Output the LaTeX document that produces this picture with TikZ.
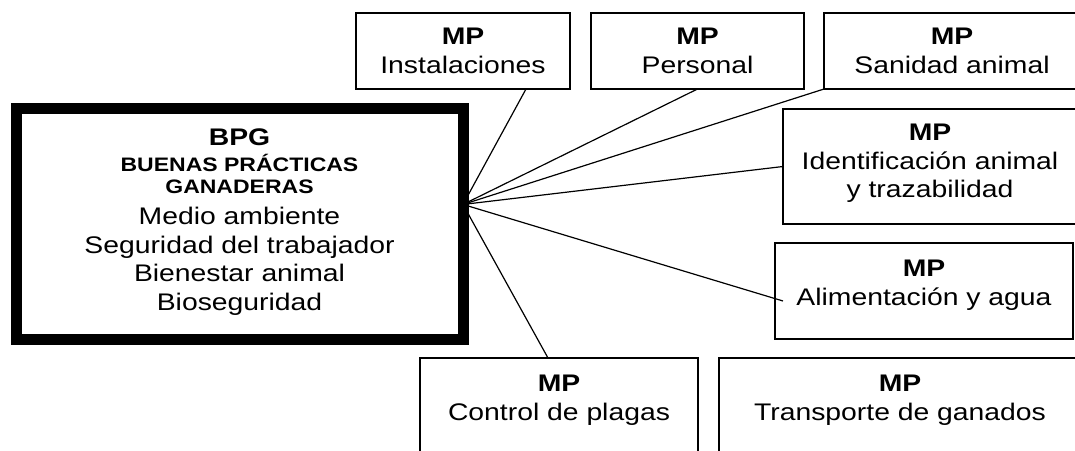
\documentclass[tikz,border=0pt]{standalone}
\usepackage{fontspec}
\setmainfont[FakeStretch=1.18]{Liberation Sans}

\begin{document}
\begin{tikzpicture}[x=1pt,y=-1pt]
\tikzstyle{mpbox}=[rectangle, draw, line width=1.6pt, anchor=north west, inner sep=0pt, outer sep=0pt]
\tikzstyle{mptext}=[align=center, anchor=north, inner sep=0pt, font=\fontsize{24}{28.5}\selectfont]
\tikzstyle{spoke}=[line width=1.2pt]

\useasboundingbox (0,0) rectangle (1075,450);
\clip (0,0) rectangle (1075,450);

\node[mpbox, line width=11pt, minimum width=447pt, minimum height=231pt] (bpg) at (16,108.5) {};
\node[mptext] (bpgText) at (239.5,129) {\textbf{BPG}\\[-2.5pt]
  {\fontsize{19.5}{22}\selectfont\bfseries BUENAS PRÁCTICAS}\\[-6.5pt]
  {\fontsize{19.5}{22}\selectfont\bfseries GANADERAS}\\[2.5pt]
  Medio ambiente\\Seguridad del trabajador\\Bienestar animal\\Bioseguridad};

\node[mpbox, minimum width=214pt, minimum height=76pt] (inst) at (356,13) {};
\node[mptext] (instText) at (463,28) {\textbf{MP}\\Instalaciones};
\node[mpbox, minimum width=213pt, minimum height=76pt] (pers) at (591,13) {};
\node[mptext] (persText) at (697.5,28) {\textbf{MP}\\Personal};
\node[mpbox, minimum width=260pt, minimum height=76pt] (sani) at (824,13) {};
\node[mptext] (saniText) at (952,28) {\textbf{MP}\\Sanidad animal};
\node[mpbox, minimum width=295pt, minimum height=115pt] (iden) at (783,109) {};
\node[mptext] (idenText) at (930,124) {\textbf{MP}\\Identificación animal\\y trazabilidad};
\node[mpbox, minimum width=298pt, minimum height=96pt] (alim) at (775,243) {};
\node[mptext] (alimText) at (924,260) {\textbf{MP}\\Alimentación y agua};
\node[mpbox, minimum width=278pt, minimum height=110pt] (ctrl) at (420,358) {};
\node[mptext] (ctrlText) at (559,375) {\textbf{MP}\\Control de plagas};
\node[mpbox, minimum width=365pt, minimum height=110pt] (trans) at (719,358) {};
\node[mptext] (transText) at (900,375) {\textbf{MP}\\Transporte de ganados};

\draw[spoke] (bpg.5.4) -- ([xshift=63pt]inst.south);
\draw[spoke] (bpg.5.4) -- (pers.south);
\draw[spoke] (bpg.5.4) -- (sani.south west);
\draw[spoke] (bpg.5.4) -- (iden.west);
\draw[spoke] (bpg.5.4) -- ([shift={(8pt,-10pt)}]alim.west);
\draw[spoke] (bpg.5.4) -- ([xshift=-11pt]ctrl.north);
\end{tikzpicture}
\end{document}
